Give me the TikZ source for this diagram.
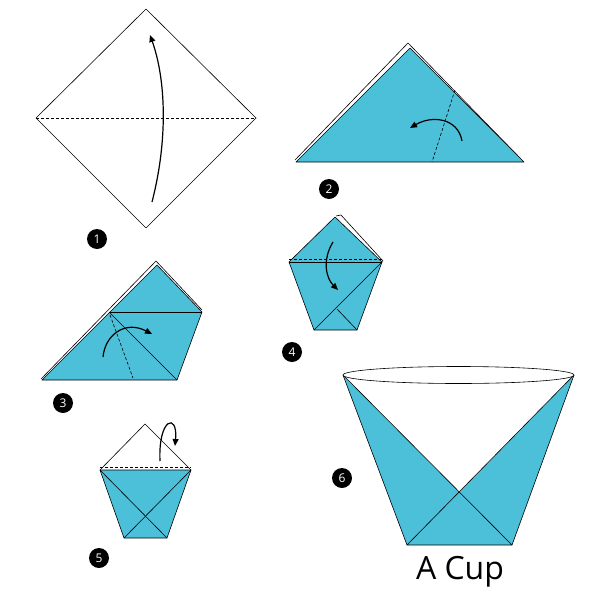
\documentclass[tikz,border=0pt]{standalone}
\usepackage{fontspec}
\setmainfont{Open Sans}
\usetikzlibrary{arrows.meta}
\definecolor{cupblue}{HTML}{4CBFD9}
\tikzset{
 paper/.style={fill=cupblue,draw=black,line width=0.6pt,line join=round},
 sheet/.style={fill=white,draw=black,line width=0.6pt,line join=round},
 fold/.style={draw=black,line width=0.6pt,dash pattern=on 3pt off 2pt},
 crease/.style={draw=black,line width=0.6pt},
 move/.style={draw=black,line width=1.2pt,-{Triangle[length=7pt,width=6pt]}},
 badge/.style={circle,fill=black,text=white,inner sep=0pt,minimum size=20pt,font=\fontsize{12}{12}\selectfont}
}
\begin{document}
\begin{tikzpicture}[x=1pt,y=-1pt]
\useasboundingbox (0,0) rectangle (600,600);
% step 1
\draw[sheet] (146,9) -- (256,118) -- (146,228) -- (36,118) -- cycle;
\draw[fold] (36,118) -- (256,118);
\coordinate (a1s) at (152,202); \coordinate (a1e) at (150,35);
\draw[move] (a1s) .. controls (168,140) and (166,80) .. (a1e);
\node[badge] (b1) at (97,239) {1};
% step 2
\draw[sheet] (295,160) -- (408,43) -- (520,158);
\draw[paper] (296,162) -- (410,48) -- (524,162) -- cycle;
\draw[fold] (455,90) -- (432,162);
\coordinate (a2s) at (462,141); \coordinate (a2e) at (410,128);
\draw[move] (a2s) .. controls (458,118) and (432,115) .. (a2e);
\node[badge] (b2) at (329,189) {2};
% step 3
\draw[sheet] (41,379) -- (156,261) -- (202,310);
\draw[paper] (42,380) -- (157,265) -- (202,312) -- (177,380) -- cycle;
\draw[crease] (109,312) -- (202,312);
\draw[crease] (109,312) -- (177,380);
\draw[fold] (110,315) -- (133,378);
\coordinate (a3s) at (103,357); \coordinate (a3e) at (152,334);
\draw[move] (a3s) .. controls (105,335) and (125,320) .. (a3e);
\node[badge] (b3) at (63,403) {3};
% step 4
\draw[sheet] (336,216) -- (341,215) -- (383,261) -- (380,262);
\draw[paper] (335,217) -- (382,262) -- (357,330) -- (314,330) -- (289,262) -- cycle;
\draw[crease] (289,262) -- (382,262);
\draw[fold] (289,259) -- (382,259);
\draw[crease] (382,262) -- (314,330);
\draw[crease] (337,309) -- (357,330);
\coordinate (a4s) at (333,242); \coordinate (a4e) at (338,290);
\draw[move] (a4s) .. controls (322,260) and (326,278) .. (a4e);
\node[badge] (b4) at (292,352) {4};
% step 5
\draw[sheet] (100,470) -- (145,424) -- (191,470);
\draw[paper] (100,470) -- (191,470) -- (167,538) -- (124,538) -- cycle;
\draw[fold] (100,467) -- (191,467);
\draw[crease] (100,470) -- (167,538);
\draw[crease] (191,470) -- (124,538);
\coordinate (a5s) at (160,461); \coordinate (a5e) at (175,446);
\draw[move] (a5s) .. controls (158,418) and (178,412) .. (a5e);
\node[badge] (b5) at (99,558) {5};
% step 6
\coordinate (tl) at (343,375); \coordinate (tr) at (574,375);
\coordinate (bl) at (407,545); \coordinate (br) at (512,545);
\coordinate (mid) at (intersection of tl--br and tr--bl);
\fill[cupblue] (tl) -- (tr) -- (br) -- (bl) -- cycle;
\fill[white] (tl) -- (tr) -- (mid) -- cycle;
\draw[crease,line join=round] (tl) -- (br) -- (bl) -- (tr);
\draw[crease] (tl) -- (bl);
\draw[crease] (tr) -- (br);
\draw[sheet] (458.5,375) ellipse [x radius=115.5, y radius=8.5];
\node[badge] (b6) at (342,478) {6};
\node[font=\fontsize{32}{32}\selectfont,inner sep=0pt] (title) at (460,572) {A Cup};
\end{tikzpicture}
\end{document}
